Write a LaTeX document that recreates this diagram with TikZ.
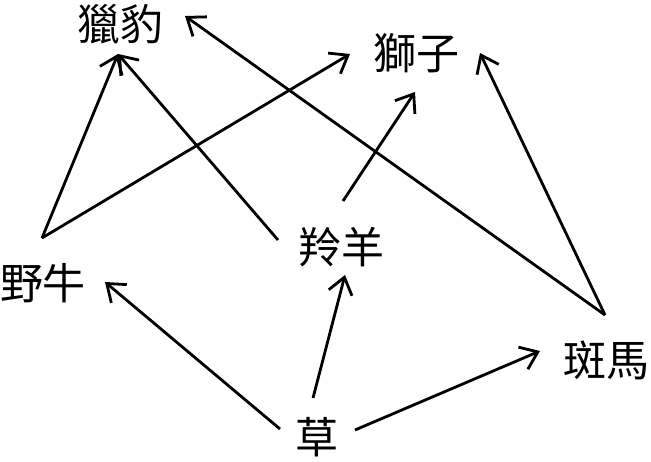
\documentclass[tikz,border=0pt]{standalone}
\usepackage{fontspec}
\newfontfamily\cjk{Noto Sans CJK TC}
\usetikzlibrary{arrows.meta}

\begin{document}
\begin{tikzpicture}[x=1pt,y=-1pt,
                    animal/.style={inner sep=0pt,font=\cjk\fontsize{43}{43}\selectfont},
                    eats/.style={line width=2.8pt,-{Straight Barb[length=16pt,width=24pt,line width=2.8pt]}}]
\useasboundingbox (0,0) rectangle (651,462);
\node[animal] (cheetah) at (120,24) {獵豹};
\node[animal] (lion) at (416,53) {獅子};
\node[animal] (antelope) at (341,247) {羚羊};
\node[animal] (buffalo) at (43,283) {野牛};
\node[animal] (zebra) at (606,360) {斑馬};
\node[animal] (grass) at (317,437) {草};
% where the arrows leave and meet
\coordinate (grass left) at (280,429);
\coordinate (grass top) at (313,398);
\coordinate (grass right) at (355,430);
\coordinate (buffalo in) at (105,282);
\coordinate (buffalo out) at (42,238);
\coordinate (antelope in) at (345,275);
\coordinate (antelope left) at (278,240);
\coordinate (antelope top) at (343,201);
\coordinate (zebra in) at (540,351);
\coordinate (zebra out) at (605,315);
\coordinate (cheetah in) at (118,54);
\coordinate (cheetah right) at (185,16);
\coordinate (lion left) at (350,54);
\coordinate (lion in) at (415,92);
\coordinate (lion right) at (480,53);
\draw[eats] (grass left) -- (buffalo in);
\draw[eats] (grass top) -- (antelope in);
\draw[eats] (grass right) -- (zebra in);
\draw[eats] (buffalo out) -- (cheetah in);
\draw[eats] (buffalo out) -- (lion left);
\draw[eats] (antelope left) -- (cheetah in);
\draw[eats] (antelope top) -- (lion in);
\draw[eats] (zebra out) -- (cheetah right);
\draw[eats] (zebra out) -- (lion right);
\end{tikzpicture}
\end{document}
